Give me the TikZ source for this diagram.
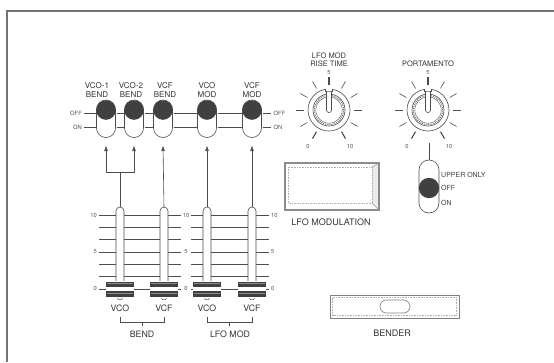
\documentclass[tikz,border=0pt]{standalone}
\usepackage{fontspec}
\setmainfont{TeX Gyre Heros}
\usetikzlibrary{arrows.meta,calc}
\begin{document}
\begin{tikzpicture}[x=1pt,y=-1pt,
  ln/.style={draw=black!70, line width=0.6pt},
  lbl/.style={font=\fontsize{8}{9.5}\selectfont, text=black!80, inner sep=0pt, align=center},
  klbl/.style={font=\fontsize{7.5}{8}\selectfont, text=black!80, inner sep=0pt, align=center},
  sml/.style={font=\fontsize{5.8}{6}\selectfont, text=black!65, inner sep=0pt},
  pls/.style={font=\fontsize{7}{8}\selectfont, text=black!75, inner sep=0pt, anchor=west},
  big/.style={font=\fontsize{8.8}{9}\selectfont, text=black!80, inner sep=0pt},
  arr/.style={ln, -{Triangle[length=5pt,width=3.5pt]}},
]
\useasboundingbox (0,0) rectangle (554,362);
\fill[white] (0,0) rectangle (554,362);
% frame
\draw[black!55, line width=1.8pt] (7,362) -- (7,11) -- (554,11);

% ---------- switches ----------
\foreach \n/\x in {s1/106, s2/134, s3/163, s4/207, s5/252} {
  \draw[ln, fill=white, rounded corners=9.5pt] (\x-9.5,100) rectangle (\x+9.5,137.5);
  \fill[black!75] (\x,110) circle[radius=9.8pt];
  \coordinate (\n) at (\x,146);
}
\foreach \y in {113,127} {
  \draw[ln] (84,\y) -- (96.5,\y);
  \draw[ln] (116.5,\y) -- (123.5,\y);
  \draw[ln] (144.5,\y) -- (152.5,\y);
  \draw[ln] (173.5,\y) -- (196.5,\y);
  \draw[ln] (217.5,\y) -- (241.5,\y);
  \draw[ln] (262.5,\y) -- (271,\y);
}
\node[sml, anchor=east] (offl) at (82,113) {OFF};
\node[sml, anchor=east] (onl) at (82,127) {ON};
\node[sml, anchor=west] (offr) at (273.5,113) {OFF};
\node[sml, anchor=west] (onr) at (273.5,127) {ON};

\node[lbl] (l1) at (97,90) {VCO-1\\BEND};
\node[lbl] (l2) at (131,90) {VCO-2\\BEND};
\node[lbl] (l3) at (165,90) {VCF\\BEND};
\node[lbl] (l4) at (207,90) {VCO\\MOD};
\node[lbl] (l5) at (252,90) {VCF\\MOD};

% ---------- sliders ----------
\foreach \i in {0,...,6} {
  \draw[ln] (99,215+\i*12.33) -- (181,215+\i*12.33);
  \draw[ln] (191,215+\i*12.33) -- (269,215+\i*12.33);
}
\foreach \v/\i in {10/0, 5/3, 0/6} {
  \node[sml, anchor=east] (sa\v) at (97,215+\i*12.33) {\v};
  \node[sml] (sb\v) at (186,215+\i*12.33) {\v};
  \node[sml, anchor=west] (sc\v) at (271,215+\i*12.33) {\v};
}
\foreach \n/\x in {f1/120, f2/164, f3/207, f4/252} {
  \draw[ln, fill=white, rounded corners=4pt] (\x-4,286) -- (\x-4,207) -- (\x+4,207) -- (\x+4,286);
  \fill[white] (\x-14,281) rectangle (\x+14,297);
  \fill[black!75] (\x-14,281.5) rectangle (\x+14,287);
  \fill[black!75] (\x-14,291) rectangle (\x+14,296.5);
  \draw[black!45, line width=0.4pt] (\x-13,283.2) -- (\x+13,283.2);
  \draw[black!45, line width=0.4pt] (\x-13,292.7) -- (\x+13,292.7);
  \draw[ln, line width=0.5pt] (\x-2.5,298) .. controls (\x-2,300.5) and (\x+2,300.5) .. (\x+2.5,298);
  \coordinate (\n) at (\x,207);
}

% connectors
\coordinate (j) at (120,172);
\draw[ln] (f1) -- (j);
\draw[arr] (j) -| (s1);
\draw[arr] (j) -| (s2);
\draw[arr] (f2) -- (s3);
\draw[arr] (f3) -- (s4);
\draw[arr] (f4) -- (s5);

% bottom labels
\node[big] (b1) at (120,308) {VCO};
\node[big] (b2) at (164,308) {VCF};
\node[big] (b3) at (207,308) {VCO};
\node[big] (b4) at (252,308) {VCF};
\draw[ln] (120,317) -- (120,322) -- (164,322) -- (164,317);
\draw[ln] (142,322) -- (142,326);
\draw[ln] (207,317) -- (207,322) -- (252,322) -- (252,317);
\draw[ln] (229.5,322) -- (229.5,326);
\node[big] (bend) at (142,334) {BEND};
\node[big] (lfomod) at (230,334) {LFO MOD};

% ---------- knobs ----------
\foreach \n/\cx in {k1/329, k2/428} {
  \begin{scope}[shift={(\cx,110)}]
    \coordinate (\n) at (0,0);
    \foreach \a in {210,180,150,120,60,30,0,-30}
      \draw[ln] (\a:25pt) -- (\a:33pt);
    \foreach \a in {240,90,-60}
      \draw[ln, line width=1.1pt] (\a:25pt) -- (\a:33pt);
    \draw[ln, fill=white] (0,0) circle[radius=21pt];
    \fill[white] (-3.5,-23) rectangle (3.5,-18.5);
    \draw[ln] (-3.5,-20.7) -- (-3.5,-18.5) -- (3.5,-18.5) -- (3.5,-20.7);
    \draw[ln] (0,0) circle[radius=16pt];
    \draw[black!60, densely dotted, line width=0.9pt] (0,0) circle[radius=14.6pt];
    \draw[ln, line width=0.4pt] (0,0) circle[radius=13.2pt];
    \draw[ln, fill=white, rounded corners=2.4pt] (-2.5,-18.5) -- (-2.5,2.5) -- (2.5,2.5) -- (2.5,-18.5);
    \node[sml] (\n5) at (90:37pt) {5};
    \node[sml] (\n0) at (240:42pt) {0};
    \node[sml] (\n10) at (-60:42pt) {10};
  \end{scope}
}
\node[klbl] (kt1) at (329,60) {LFO MOD\\RISE TIME};
\node[klbl] (kt2) at (428,64) {PORTAMENTO};

% portamento switch
\coordinate (pt) at (429,143);
\coordinate (pc) at (429,160);
\draw[ln] (pt) -- (pc);
\draw[ln, fill=white, rounded corners=10pt] (419,160) rectangle (439,213);
\fill[black!75] (429,188) circle[radius=10.2pt];
\node[pls] (up) at (441,175) {UPPER ONLY};
\node[pls] (pof) at (441,188) {OFF};
\node[pls] (pon) at (441,203) {ON};

% LFO modulation box
\fill[black!8] (372,167) -- (379,163) -- (379,210) -- (372,203) -- cycle;
\draw[black!45, line width=1.5pt] (285,163) rectangle (379,210);
\draw[black!30, densely dotted, line width=0.6pt] (288,167) rectangle (372,203);
\draw[black!40, line width=0.5pt] (372,203) -- (379,210);
\draw[black!40, line width=0.5pt] (372,167) -- (379,163);
\node[big, font=\fontsize{9}{10}\selectfont] (lfolbl) at (331,222) {LFO MODULATION};

% bender
\draw[black!50, line width=1pt] (330,295) rectangle (459,318);
\draw[black!30, densely dotted, line width=0.6pt] (332.5,297.5) rectangle (456.5,315.5);
\draw[black!50, line width=0.6pt, rounded corners=6.5pt] (380,300) rectangle (410,313);
\node[big, font=\fontsize{9}{10}\selectfont] (bender) at (392,333) {BENDER};
\end{tikzpicture}
\end{document}
